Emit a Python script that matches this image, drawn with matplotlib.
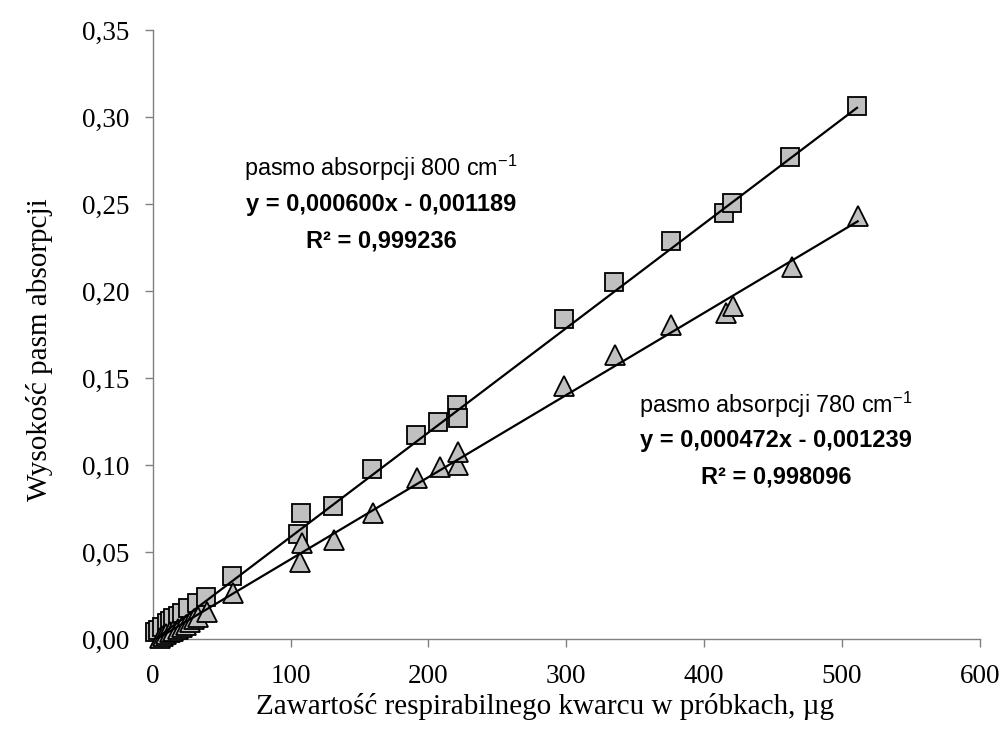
import matplotlib
matplotlib.use("Agg")
import matplotlib.pyplot as plt
import numpy as np
from matplotlib.ticker import FuncFormatter

# ---- data ----
sq_x = [1.7, 4.1, 7.0, 10.2, 12.5, 15.0, 18.0, 21.0, 25.8, 31.9, 38.4, 57.7,
        105.6, 107.3, 130.5, 158.8, 190.7, 207.2, 220.5, 221.5, 298.4, 334.8,
        375.7, 414.3, 420.0, 462.2, 510.8]
sq_y = [0.0044, 0.0053, 0.0070, 0.0092, 0.0105, 0.0121, 0.0135, 0.0149, 0.0178,
        0.0207, 0.0241, 0.0364, 0.0603, 0.0728, 0.0768, 0.0977, 0.1174, 0.1251,
        0.1347, 0.1270, 0.1841, 0.2055, 0.2289, 0.2448, 0.2506, 0.2771, 0.3065]

tr_x = [5.0, 7.5, 10.0, 12.5, 15.0, 18.0, 21.0, 24.0, 27.0, 30.0, 33.1, 39.2,
        58.5, 106.8, 108.0, 131.5, 160.0, 191.5, 208.4, 221.7, 221.7, 298.4,
        335.0, 375.9, 415.6, 420.7, 463.4, 511.3]
tr_y = [0.0010, 0.0020, 0.0030, 0.0040, 0.0050, 0.0060, 0.0070, 0.0085, 0.0100,
        0.0115, 0.0130, 0.0159, 0.0264, 0.0446, 0.0552, 0.0571, 0.0724, 0.0925,
        0.0992, 0.1002, 0.1078, 0.1456, 0.1634, 0.1806, 0.1873, 0.1912, 0.2138,
        0.2429]

# trendline coefficients (as printed on the chart)
sq_slope, sq_icpt = 0.000600, -0.001189
tr_slope, tr_icpt = 0.000472, -0.001239

x_ticks = [0, 100, 200, 300, 400, 500, 600]
y_ticks = [0.00, 0.05, 0.10, 0.15, 0.20, 0.25, 0.30, 0.35]

label_800 = ["pasmo absorpcji 800 cm$^{-1}$", "y = 0,000600x - 0,001189", "R² = 0,999236"]
label_780 = ["pasmo absorpcji 780 cm$^{-1}$", "y = 0,000472x - 0,001239", "R² = 0,998096"]

plt.rcParams['mathtext.fontset'] = 'custom'
plt.rcParams['mathtext.rm'] = 'Liberation Sans'
plt.rcParams['mathtext.it'] = 'Liberation Sans'

W, H = 1004, 740
fig = plt.figure(figsize=(W / 100, H / 100), dpi=100)
ax = fig.add_axes([152.7 / W, 1 - 639.3 / H, (980 - 152.7) / W, (639.3 - 30) / H])

fill = '#C0C0C0'
ax.plot(sq_x, sq_y, linestyle='none', marker='s', ms=12.5, mfc=fill, mec='black',
        mew=1.3, zorder=3, clip_on=False)
ax.plot(tr_x, tr_y, linestyle='none', marker='^', ms=14.5, mfc=fill, mec='black',
        mew=1.3, zorder=4, clip_on=False)

xs = np.array([min(sq_x), max(sq_x)])
ax.plot(xs, sq_slope * xs + sq_icpt, color='black', lw=1.6, zorder=5)
xt = np.array([min(tr_x) - 3, max(tr_x)])
ax.plot(xt, tr_slope * xt + tr_icpt, color='black', lw=1.6, zorder=5)

ax.set_xlim(0, 600)
ax.set_ylim(0, 0.35)
ax.set_xticks(x_ticks)
ax.set_yticks(y_ticks)
ax.yaxis.set_major_formatter(FuncFormatter(lambda v, p: f"{v:.2f}".replace('.', ',')))
ax.xaxis.set_major_formatter(FuncFormatter(lambda v, p: f"{v:.0f}"))

for s in ['top', 'right']:
    ax.spines[s].set_visible(False)
for s in ['left', 'bottom']:
    ax.spines[s].set_color('#808080')
    ax.spines[s].set_linewidth(1.0)

ax.tick_params(axis='both', direction='out', length=6, width=1.0, color='#808080',
               labelsize=19.5)
ax.tick_params(axis='y', pad=10.5)
ax.tick_params(axis='x', pad=12)
for lab in ax.get_xticklabels() + ax.get_yticklabels():
    lab.set_family('Liberation Serif')

fig.text(545 / W, 1 - 707 / H, "Zawartość respirabilnego kwarcu w próbkach, µg",
         family='Liberation Serif', fontsize=21, ha='center', va='center')
fig.text(40 / W, 1 - 350 / H, "Wysokość pasm absorpcji", family='Liberation Serif',
         fontsize=21, ha='center', va='center', rotation=90)

def block(cx, ys, lines):
    fig.text(cx / W, 1 - ys[0] / H, lines[0], family='Liberation Sans', fontsize=16.8,
             ha='center', va='center')
    for y, t in zip(ys[1:], lines[1:]):
        fig.text(cx / W, 1 - y / H, t, family='Liberation Sans', fontsize=17,
                 weight='bold', ha='center', va='center')

block(381, [168, 205, 241], label_800)
block(776, [405, 441, 477], label_780)

fig.savefig('out.png', dpi=100)
